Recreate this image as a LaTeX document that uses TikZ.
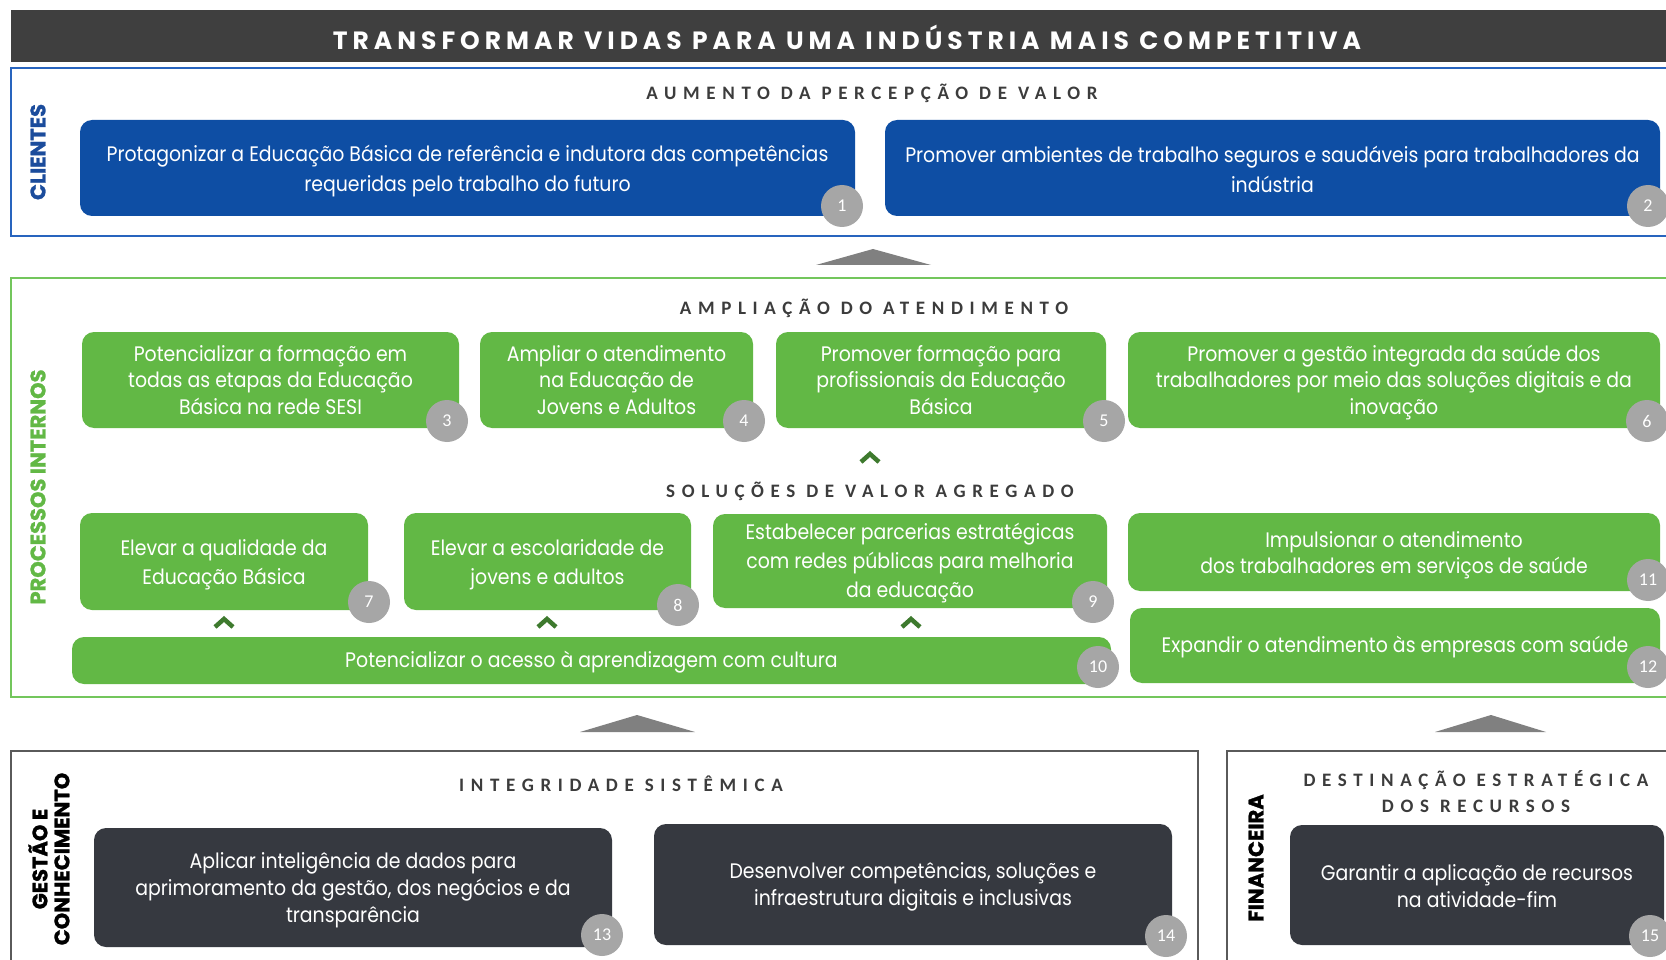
\documentclass[tikz,border=0pt]{standalone}
\usepackage{fontspec}
\setmainfont{Poppins}
\newfontfamily\bodyfont[FakeStretch=0.9]{Poppins}
\newfontfamily\hdrfont[LetterSpace=35]{Carlito}
\newfontfamily\titlefont[LetterSpace=20]{Poppins}
\newfontfamily\numfont{Carlito}
\newfontfamily\sidefont[BoldFeatures={FakeBold=1.2}]{Poppins}
\definecolor{cbar}{RGB}{63,63,63}
\definecolor{cblue}{RGB}{14,78,164}
\definecolor{cblueline}{RGB}{40,100,190}
\definecolor{cgreen}{RGB}{98,184,69}
\definecolor{cgreenline}{RGB}{115,198,92}
\definecolor{cdark}{RGB}{54,57,64}
\definecolor{cnum}{RGB}{166,166,166}
\definecolor{ctri}{RGB}{128,128,128}
\definecolor{cchev}{RGB}{62,122,46}
\definecolor{chdr}{RGB}{60,60,60}
\definecolor{cframe}{RGB}{90,90,90}
\definecolor{csideblue}{RGB}{27,76,156}
\definecolor{csidegreen}{RGB}{98,184,69}
\begin{document}
\begin{tikzpicture}[x=1pt,y=-1pt,
  box/.style={rectangle, rounded corners=12pt, inner sep=0pt},
  bluebox/.style={box, fill=cblue},
  greenbox/.style={box, fill=cgreen},
  darkbox/.style={box, fill=cdark},
  txt/.style={inner sep=0pt, align=center, text=white, font=\bodyfont\fontsize{21}{26.5}\selectfont},
  bluetxt/.style={txt, font=\bodyfont\fontsize{21}{30}\selectfont},
  greentxtb/.style={txt, font=\bodyfont\fontsize{21}{29}\selectfont},
  darktxt/.style={txt, font=\bodyfont\fontsize{21}{27}\selectfont},
  num/.style={circle, fill=cnum, minimum size=42pt, inner sep=0pt, text=white,
    font=\numfont\fontsize{18}{18}\selectfont},
  hdr/.style={inner sep=0pt, text=chdr, font=\hdrfont\bfseries\fontsize{19}{26}\selectfont, align=center},
  side/.style={inner sep=0pt, rotate=90, font=\sidefont\bfseries\fontsize{21}{21}\selectfont, align=center},
  chev/.style={draw=cchev, line width=4.5pt, line join=miter},
  tri/.style={fill=ctri}
]
\useasboundingbox (0,0) rectangle (1666,960);
\clip (0,0) rectangle (1666,960);
\fill[white] (0,0) rectangle (1666,960);

% title bar
\fill[cbar] (11,10) rectangle (1680,62);
\node[inner sep=0pt, text=white, font=\titlefont\bfseries\fontsize{25}{25}\selectfont] (title) at (847,37) {TRANSFORMAR VIDAS PARA UMA INDÚSTRIA MAIS COMPETITIVA};

% frames
\draw[cblueline, line width=2pt] (11,68) rectangle (1680,236);
\draw[cgreenline, line width=1.6pt] (11,278) rectangle (1680,697);
\draw[cframe, line width=1.5pt] (11,751) rectangle (1198,975);
\draw[cframe, line width=1.5pt] (1227,751) rectangle (1680,975);

% side labels
\node[side, text=csideblue] (lclientes) at (38,152) {CLIENTES};
\node[side, text=csidegreen] (lproc) at (38,487) {PROCESSOS INTERNOS};
\node[side, text=black, font=\sidefont\bfseries\fontsize{21}{22}\selectfont] (lgestao) at (49,859) {GESTÃO E\\CONHECIMENTO};
\node[side, text=black] (lfin) at (1256,858) {FINANCEIRA};

% headers
\node[hdr] (h1) at (872,93) {AUMENTO DA PERCEPÇÃO DE VALOR};
\node[hdr] (h2) at (874,308) {AMPLIAÇÃO DO ATENDIMENTO};
\node[hdr] (h3) at (870,491) {SOLUÇÕES DE VALOR AGREGADO};
\node[hdr] (h4) at (621,784) {INTEGRIDADE SISTÊMICA};
\node[hdr] (h5) at (1476,792) {DESTINAÇÃO ESTRATÉGICA\\DOS RECURSOS};

% triangles and chevrons
\fill[tri] (816,265) -- (873,249) -- (931,265) -- cycle;
\fill[tri] (580,732) -- (637,715) -- (695,732) -- cycle;
\fill[tri] (1435,732) -- (1491,715) -- (1546,732) -- cycle;
\draw[chev] (861,462) -- (870,454) -- (879,462);
\draw[chev] (215,627) -- (224,619) -- (233,627);
\draw[chev] (538,627) -- (547,619) -- (556,627);
\draw[chev] (902,627) -- (911,619) -- (920,627);

% blue boxes
\node[bluebox, minimum width=775pt, minimum height=96pt] (b1) at (467.5,168) {};
\node[bluetxt] (t1) at ([yshift=-3pt]b1.center) {Protagonizar a Educação Básica de referência e indutora das competências\\requeridas pelo trabalho do futuro};
\node[bluebox, minimum width=775pt, minimum height=96pt] (b2) at (1272.5,168) {};
\node[bluetxt] (t2) at ([yshift=-1pt]b2.center) {Promover ambientes de trabalho seguros e saudáveis para trabalhadores da\\indústria};

% green row 1
\node[greenbox, minimum width=377pt, minimum height=96pt] (b3) at (270.5,380) {};
\node[txt] (t3) at (b3.center) {Potencializar a formação em\\todas as etapas da Educação\\Básica na rede SESI};
\node[greenbox, minimum width=273pt, minimum height=96pt] (b4) at (616.5,380) {};
\node[txt] (t4) at (b4.center) {Ampliar o atendimento\\na Educação de\\Jovens e Adultos};
\node[greenbox, minimum width=330pt, minimum height=96pt] (b5) at (941,380) {};
\node[txt] (t5) at (b5.center) {Promover formação para\\profissionais da Educação\\Básica};
\node[greenbox, minimum width=532pt, minimum height=96pt] (b6) at (1394,380) {};
\node[txt] (t6) at ([yshift=-2.5pt]b6.center) {Promover a gestão integrada da saúde dos\\trabalhadores por meio das soluções digitais e da\\inovação};

% green row 2
\node[greenbox, minimum width=288pt, minimum height=97pt] (b7) at (224,561.5) {};
\node[greentxtb] (t7) at ([yshift=-3pt]b7.center) {Elevar a qualidade da\\Educação Básica};
\node[greenbox, minimum width=287pt, minimum height=97pt] (b8) at (547.5,561.5) {};
\node[greentxtb] (t8) at ([yshift=-3pt]b8.center) {Elevar a escolaridade de\\jovens e adultos};
\node[greenbox, minimum width=394pt, minimum height=94pt] (b9) at (910,561) {};
\node[greentxtb] (t9) at ([yshift=-2.5pt]b9.center) {Estabelecer parcerias estratégicas\\com redes públicas para melhoria\\da educação};
\node[greenbox, minimum width=532pt, minimum height=78pt] (b11) at (1394,552) {};
\node[txt] (t11) at ([yshift=-3pt]b11.center) {Impulsionar o atendimento\\dos trabalhadores em serviços de saúde};
\node[greenbox, minimum width=530pt, minimum height=75pt] (b12) at (1395,645.5) {};
\node[txt] (t12) at ([yshift=-2pt]b12.center) {Expandir o atendimento às empresas com saúde};
\node[greenbox, minimum width=1039pt, minimum height=47pt] (b10) at (591.5,660.5) {};
\node[txt] (t10) at ([yshift=-2pt]b10.center) {Potencializar o acesso à aprendizagem com cultura};

% dark boxes
\node[darkbox, minimum width=518pt, minimum height=119pt] (b13) at (353,887.5) {};
\node[darktxt] (t13) at ([yshift=-3pt]b13.center) {Aplicar inteligência de dados para\\aprimoramento da gestão, dos negócios e da\\transparência};
\node[darkbox, minimum width=518pt, minimum height=121pt] (b14) at (913,884.5) {};
\node[darktxt] (t14) at ([yshift=-2pt]b14.center) {Desenvolver competências, soluções e\\infraestrutura digitais e inclusivas};
\node[darkbox, minimum width=374pt, minimum height=120pt] (b15) at (1477,885) {};
\node[darktxt] (t15) at ([yshift=-1pt]b15.center) {Garantir a aplicação de recursos\\na atividade-fim};

% number circles
\node[num] (n1) at (842,206) {1};
\node[num] (n2) at (1648,206) {2};
\node[num] (n3) at (447,421) {3};
\node[num] (n4) at (744,421) {4};
\node[num] (n5) at (1104,421) {5};
\node[num] (n6) at (1647,421) {6};
\node[num] (n7) at (369,602) {7};
\node[num] (n8) at (678,605) {8};
\node[num] (n9) at (1093,602) {9};
\node[num] (n10) at (1098,667) {10};
\node[num] (n11) at (1648,580) {11};
\node[num] (n12) at (1648,667) {12};
\node[num] (n13) at (602,935) {13};
\node[num] (n14) at (1166,936) {14};
\node[num] (n15) at (1650,936) {15};
\end{tikzpicture}
\end{document}
